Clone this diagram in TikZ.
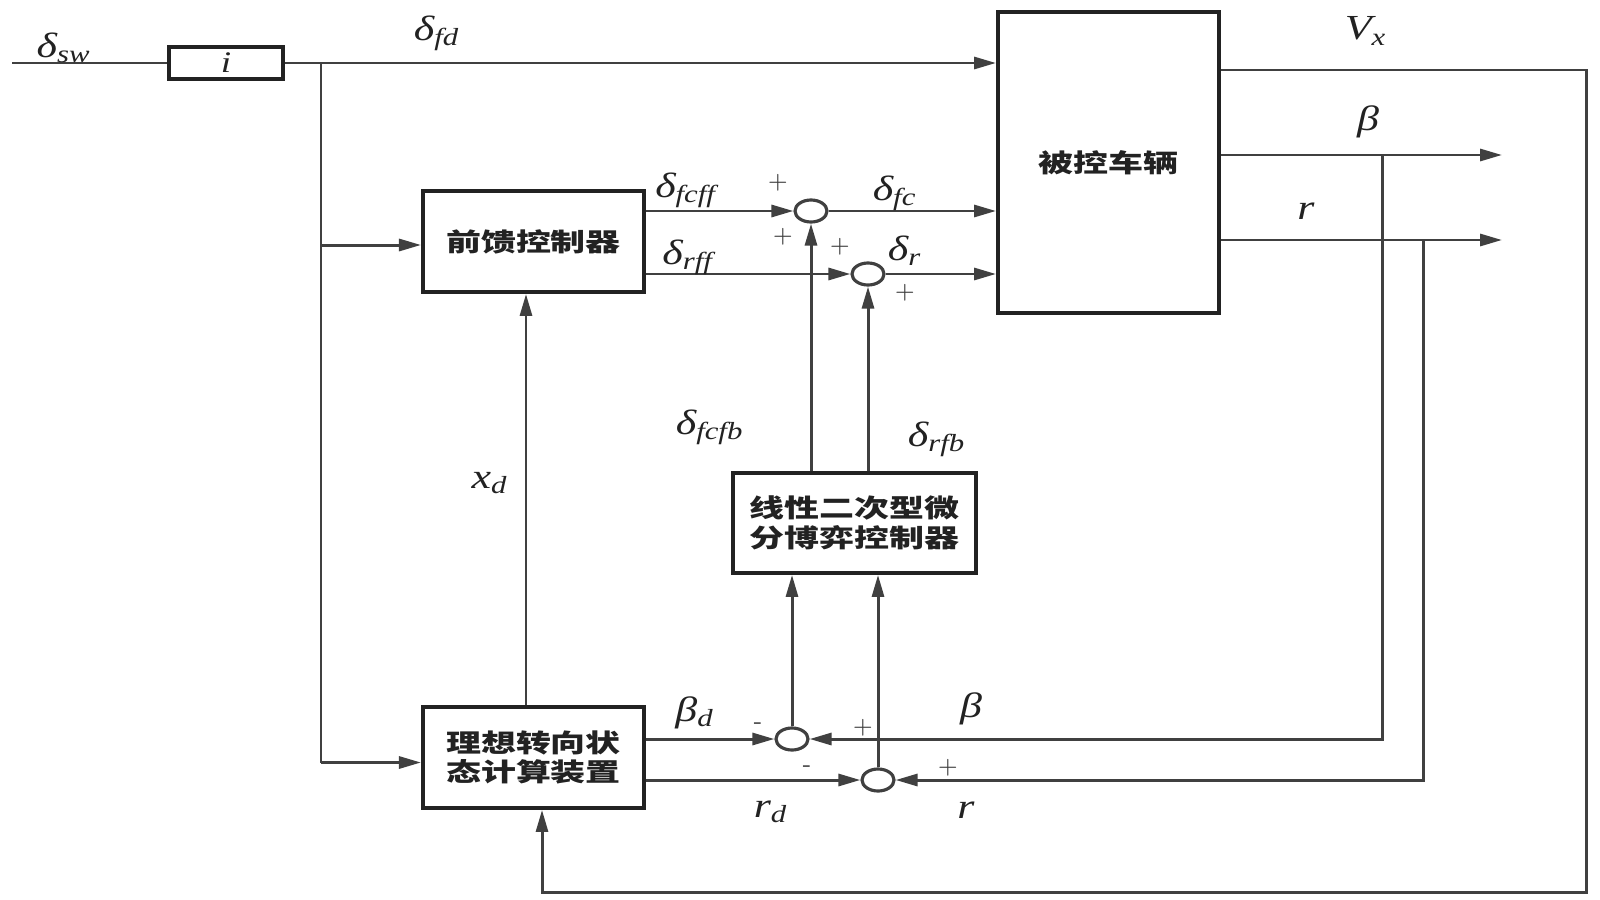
\documentclass[tikz,border=0pt]{standalone}
\usepackage{fontspec}
\usetikzlibrary{arrows.meta,shapes.geometric,calc}
\newfontfamily\cjk[FakeStretch=1.38]{Noto Sans CJK SC}
\newfontfamily\lab[FakeStretch=1.25]{Liberation Serif}
\definecolor{ln}{HTML}{404040}
\definecolor{bx}{HTML}{222222}
\begin{document}
\begin{tikzpicture}[x=0.01cm,y=-0.01cm,
  blk/.style={draw=bx, line width=1.1pt, inner sep=0pt, align=center, text=bx,
    font=\cjk\bfseries\fontsize{7.2pt}{8.5pt}\selectfont},
  sumj/.style={draw=ln, ellipse, line width=0.9pt, minimum width=0.32cm, minimum height=0.22cm, inner sep=0pt},
  wire/.style={draw=ln, line width=0.85pt},
  arr/.style={wire, -{Triangle[length=0.22cm,width=0.12cm]}},
  lbl/.style={font=\lab\itshape\fontsize{10pt}{11pt}\selectfont, text=bx, inner sep=0pt},
  sgn/.style={font=\fontsize{6.5pt}{7pt}\selectfont, text=ln, inner sep=0pt}]
\useasboundingbox[fill=white] (0,0) rectangle (1600,900);

% blocks
\node[blk, minimum width=1.14cm, minimum height=0.32cm, font=\lab\itshape\fontsize{8.5pt}{10pt}\selectfont] (gain) at (226,63) {i};
\node[blk, minimum width=2.21cm, minimum height=3.01cm] (plant) at (1108.5,162.5) {被控车辆};
\node[blk, minimum width=2.21cm, minimum height=1.01cm] (ff) at (533.5,241.5) {前馈控制器};
\node[blk, minimum width=2.43cm, minimum height=1.00cm] (lq) at (854.5,523) {线性二次型微\\分博弈控制器};
\node[blk, minimum width=2.21cm, minimum height=1.01cm] (ideal) at (533.5,757.5) {理想转向状\\态计算装置};

% summing junctions
\node[sumj] (s1) at (811,211) {};
\node[sumj] (s2) at (868,274) {};
\node[sumj] (s3) at (792,739) {};
\node[sumj] (s4) at (878,780) {};

% coordinates
\coordinate (in) at (12,63);
\coordinate (j1) at (321,63);
\coordinate (iin) at ([yshift=-0.05cm]ideal.west);
\coordinate (fin) at ([yshift=-0.035cm]ff.west);
\coordinate (vx) at (1586,70);
\coordinate (vb) at (1586,892);
\coordinate (bt) at (1502,155);
\coordinate (rt) at (1502,240);
\coordinate (bb) at (1382,155);
\coordinate (rb) at (1423,240);

% input path
\draw[wire] (in) -- (gain.west);
\draw[arr] (gain.east) -- (gain.east -| plant.west);
\draw[wire] (j1) -- (j1 |- iin);
\draw[arr] (j1 |- fin) -- (fin);
\draw[arr] (j1 |- iin) -- (iin);

% feedforward to sums
\draw[arr] (ff.east |- s1) -- (s1.west);
\draw[arr] (ff.east |- s2) -- (s2.west);
\draw[arr] (s1.east) -- (s1 -| plant.west);
\draw[arr] (s2.east) -- (s2 -| plant.west);
\draw[arr] (s1 |- lq.north) -- (s1.south);
\draw[arr] (s2 |- lq.north) -- (s2.south);

% ideal to bottom sums
\draw[arr] (ideal.east |- s3) -- (s3.west);
\draw[arr] (ideal.east |- s4) -- (s4.west);
\draw[arr] (s3.north) -- (s3 |- lq.south);
\draw[arr] (s4.north) -- (s4 |- lq.south);
\draw[arr] ([xshift=-0.075cm]ideal.north) -- ([xshift=-0.075cm]ff.south);

% outputs
\draw[arr] (plant.east |- bt) -- (bt);
\draw[arr] (plant.east |- rt) -- (rt);
\draw[arr] (bb) |- (s3.east);
\draw[arr] (rb) |- (s4.east);
\draw[arr] (plant.east |- vx) -- (vx) -- (vb) -| ([xshift=0.085cm]ideal.south);

% signal labels
\node[lbl] (lsw) at (64,48) {δ\textsubscript{sw}};
\node[lbl] (lfd) at (437,33) {δ\textsubscript{fd}};
\node[lbl] (lvx) at (1366,31) {V\textsubscript{x}};
\node[lbl] (lb1) at (1368,122) {β};
\node[lbl] (lr1) at (1306,211) {r};
\node[lbl] (lfcff) at (686,190) {δ\textsubscript{fcff}};
\node[lbl] (lrff) at (688,257) {δ\textsubscript{rff}};
\node[lbl] (lfc) at (895,193) {δ\textsubscript{fc}};
\node[lbl] (lr) at (905,251) {δ\textsubscript{r}};
\node[lbl] (lfcfb) at (710,427) {δ\textsubscript{fcfb}};
\node[lbl] (lrfb) at (937,439) {δ\textsubscript{rfb}};
\node[lbl] (lxd) at (490,483) {x\textsubscript{d}};
\node[lbl] (lbd) at (695,713) {β\textsubscript{d}};
\node[lbl] (lrd) at (771,812) {r\textsubscript{d}};
\node[lbl] (lb2) at (971,709) {β};
\node[lbl] (lr2) at (966,810) {r};

% signs
\node[sgn] (p1) at (778,183) {+};
\node[sgn] (p2) at (783,237) {+};
\node[sgn] (p3) at (840,247) {+};
\node[sgn] (p4) at (905,293) {+};
\node[sgn] (m1) at (758,726) {-};
\node[sgn] (p5) at (863,728) {+};
\node[sgn] (m2) at (807,769) {-};
\node[sgn] (p6) at (948,768) {+};
\end{tikzpicture}
\end{document}
